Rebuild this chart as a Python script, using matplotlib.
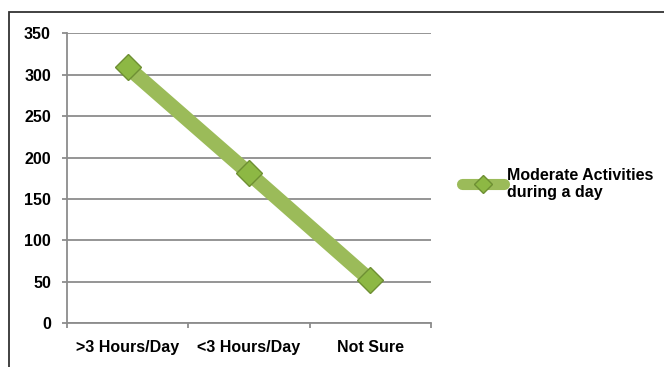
import matplotlib.pyplot as plt
from matplotlib.patches import Rectangle
from matplotlib.lines import Line2D

categories = [">3 Hours/Day", "<3 Hours/Day", "Not Sure"]
values = [309, 181, 52]
y_ticks = [0, 50, 100, 150, 200, 250, 300, 350]
series_name = "Moderate Activities\nduring a day"

GREEN = "#9BBB59"
GRID = "#8C8C8C"
FS = 11.5

plt.rcParams["font.family"] = ["Liberation Sans", "DejaVu Sans"]
plt.rcParams["font.weight"] = "bold"

fig = plt.figure(figsize=(6.64, 3.67), dpi=100)

# outer chart frame (runs off the right and bottom of the image)
fig.patches.append(Rectangle((9 / 664, -0.2), 1.0, 1.2 - 12 / 367, transform=fig.transFigure,
                             fill=False, edgecolor="#333333", linewidth=1.3))

ax = fig.add_axes([67 / 664, (367 - 323.3) / 367, (431 - 67) / 664, (323.3 - 33.3) / 367])

x = list(range(len(categories)))
ax.plot(x, values, color=GREEN, linewidth=10.5, solid_capstyle="butt", zorder=3)
ax.plot(x, values, linestyle="none", marker="D", markersize=13,
        markerfacecolor="#8DB844", markeredgecolor="#6E8F33", markeredgewidth=1.0, zorder=4)

ax.set_xlim(-0.5, len(categories) - 0.5)
ax.set_ylim(0, 350)
ax.set_yticks(y_ticks)
ax.set_yticklabels([str(v) for v in y_ticks], fontsize=FS, fontweight="bold")
ax.yaxis.grid(True, color=GRID, linewidth=1.3)
ax.set_axisbelow(True)

ax.set_xticks([i - 0.5 for i in range(len(categories) + 1)])
ax.set_xticklabels([])
ax.set_xticks(x, minor=True)
ax.set_xticklabels(categories, minor=True, fontsize=FS, fontweight="bold")
ax.tick_params(axis="x", which="minor", length=0, pad=12)
ax.tick_params(axis="x", which="major", length=3.6, color=GRID, width=1.3)
ax.tick_params(axis="y", length=3.6, color=GRID, width=1.3, pad=8)

for s in ["top", "right"]:
    ax.spines[s].set_visible(False)
for s in ["left", "bottom"]:
    ax.spines[s].set_color(GRID)
    ax.spines[s].set_linewidth(1.3)

handle = Line2D([], [], color=GREEN, linewidth=8, solid_capstyle="round", marker="D",
                markersize=9, markerfacecolor="#8DB844", markeredgecolor="#6E8F33")
fig.legend([handle], [series_name], loc="center left", bbox_to_anchor=(448 / 664, 1 - 184 / 367),
           frameon=False, handlelength=2.6, handletextpad=0.2,
           prop={"weight": "bold", "size": FS}, labelspacing=0.1)

fig.savefig("out.png", dpi=100)
